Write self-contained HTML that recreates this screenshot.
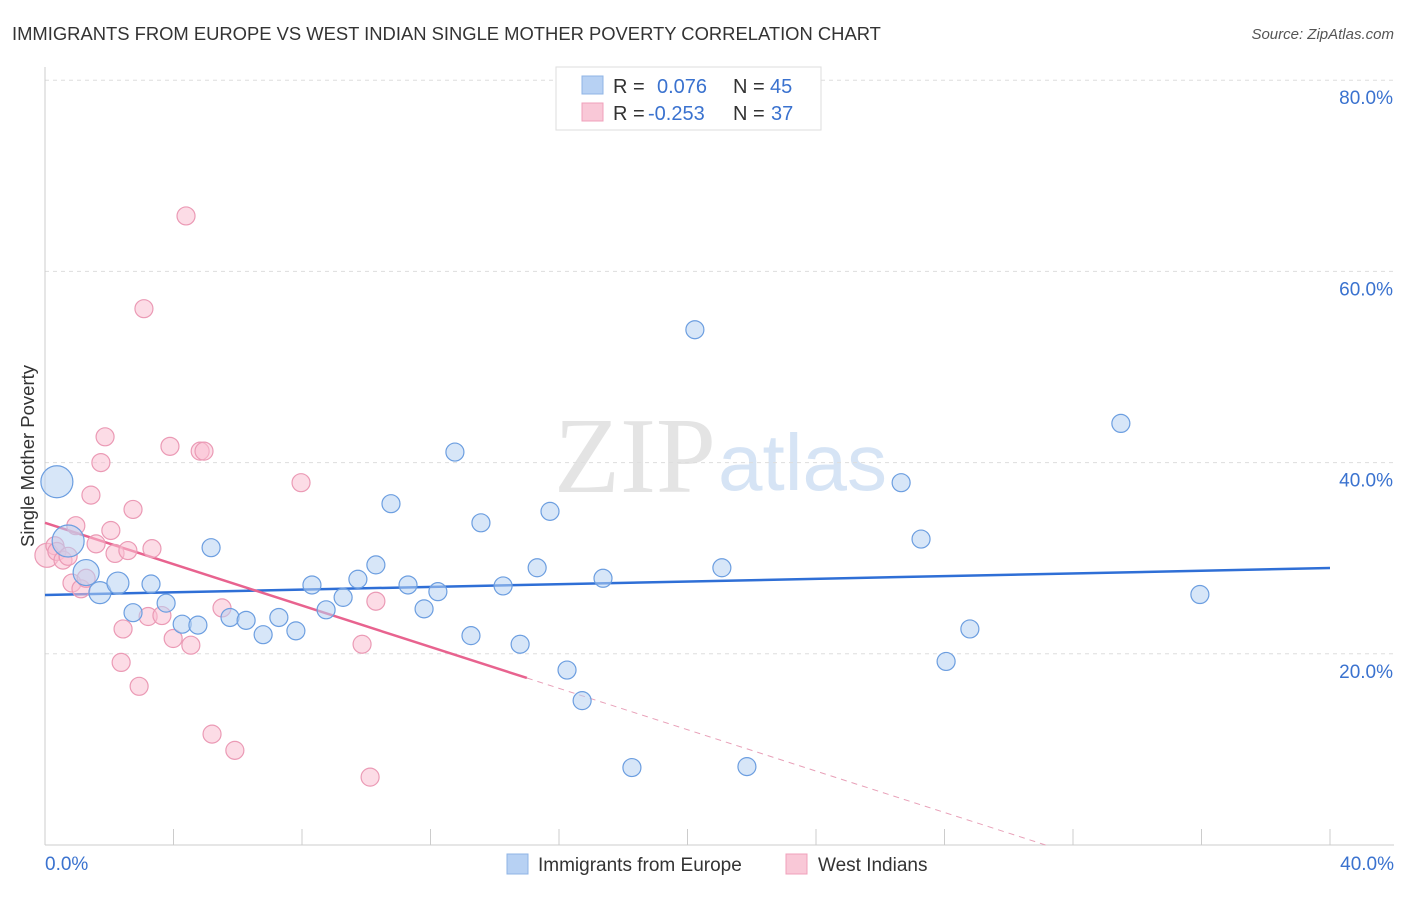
<!DOCTYPE html>
<html><head><meta charset="utf-8"><style>
body{margin:0;background:#fff;font-family:"Liberation Sans",sans-serif;}
</style></head><body>
<svg id="chart" width="1406" height="892" xmlns="http://www.w3.org/2000/svg" font-family="Liberation Sans, sans-serif">
<text x="12" y="40" font-size="18.4" fill="#333">IMMIGRANTS FROM EUROPE VS WEST INDIAN SINGLE MOTHER POVERTY CORRELATION CHART</text>
<text x="1394" y="39" font-size="15" fill="#555" text-anchor="end" font-style="italic">Source: ZipAtlas.com</text>
<text x="716" y="492" font-size="108" fill="#e4e4e4" text-anchor="end" font-family="Liberation Serif, serif">ZIP</text>
<text x="718" y="490" font-size="80" fill="#d6e4f5">atlas</text>
<g id="grid"></g><g id="axes"></g><g id="lines"></g><g id="pts"></g>
<text transform="translate(34,456) rotate(-90)" font-size="18.5" fill="#333" text-anchor="middle">Single Mother Poverty</text>
<g>
<rect x="556" y="67" width="265" height="63" fill="#fff" stroke="#ddd"/>
<rect x="582" y="76" width="21" height="18" fill="#b7d1f3" stroke="#8fb4e6"/>
<rect x="582" y="103" width="21" height="18" fill="#f9c8d7" stroke="#f0a0bb"/>
<text x="613" y="93" font-size="20" fill="#333">R =</text><text x="657" y="93" font-size="20" fill="#3a72cf">0.076</text>
<text x="733" y="93" font-size="20" fill="#333">N =</text><text x="770" y="93" font-size="20" fill="#3a72cf">45</text>
<text x="613" y="120" font-size="20" fill="#333">R =</text><text x="648" y="120" font-size="20" fill="#3a72cf">-0.253</text>
<text x="733" y="120" font-size="20" fill="#333">N =</text><text x="771" y="120" font-size="20" fill="#3a72cf">37</text>
</g>
<g>
<rect x="507" y="854" width="21" height="20" fill="#b7d1f3" stroke="#8fb4e6"/>
<text x="538" y="871" font-size="19" fill="#333">Immigrants from Europe</text>
<rect x="786" y="854" width="21" height="20" fill="#f9c8d7" stroke="#f0a0bb"/>
<text x="818" y="871" font-size="19" fill="#333">West Indians</text>
</g>
</svg>
<script>
const yTicks=[20,40,60,80];
const xTickLabels=["0.0%","40.0%"];
const blueX=[0.37,0.72,1.28,1.71,2.27,2.74,3.3,3.77,4.27,4.76,5.17,5.76,6.26,6.79,7.28,7.81,8.31,8.75,9.28,9.74,10.3,10.77,11.3,11.8,12.23,12.76,13.26,13.57,14.26,14.79,15.32,15.72,16.25,16.72,17.37,18.27,20.23,21.07,21.85,26.65,27.27,28.05,28.79,33.49,35.95];
const blueY=[38.0,31.8,28.5,26.4,27.4,24.3,27.3,25.3,23.1,23.0,31.1,23.8,23.5,22.0,23.8,22.4,27.2,24.6,25.9,27.8,29.3,35.7,27.2,24.7,26.5,41.1,21.9,33.7,27.1,21.0,29.0,34.9,18.3,15.1,27.9,8.1,53.9,29.0,8.2,37.9,32.0,19.2,22.6,44.1,26.2];
const blueR=[16,16,13,11,11,9,9,9,9,9,9,9,9,9,9,9,9,9,9,9,9,9,9,9,9,9,9,9,9,9,9,9,9,9,9,9,9,9,9,9,9,9,9,9,9];
const pinkX=[0.06,0.31,0.37,0.56,0.72,0.84,0.96,1.12,1.28,1.43,1.59,1.74,1.87,2.05,2.18,2.43,2.37,2.58,2.74,2.93,3.08,3.21,3.33,3.64,3.89,3.99,4.39,4.54,4.83,4.95,5.2,5.51,5.91,7.97,9.87,10.12,10.3];
const pinkY=[30.3,31.3,30.7,29.8,30.2,27.4,33.4,26.8,27.9,36.6,31.5,40.0,42.7,32.9,30.5,22.6,19.1,30.8,35.1,16.6,56.1,23.9,31.0,24.0,41.7,21.6,65.8,20.9,41.2,41.2,11.6,24.8,9.9,37.9,21.0,7.1,25.5];
const pinkR=[12,9,9,9,9,9,9,9,9,9,9,9,9,9,9,9,9,9,9,9,9,9,9,9,9,9,9,9,9,9,9,9,9,9,9,9,9];
const blueLine=[26.15,0.0705];
const pinkLine=[33.7,-1.082];
const pinkSolidEnd=15.0;
const NS='http://www.w3.org/2000/svg';
const X=v=>45+v*32.125, Y=v=>845-v*9.56;
function mk(t,a,p){const e=document.createElementNS(NS,t);for(const k in a)e.setAttribute(k,a[k]);document.getElementById(p).appendChild(e);return e;}
yTicks.forEach(t=>{
 const l=mk('line',{x1:45,x2:1394,y1:Y(t),y2:Y(t),stroke:'#ddd','stroke-dasharray':'4,4'},'grid');
 
 
 const tx=mk('text',{x:1393,y:Y(t)+24,'font-size':19,fill:'#3a72cf','text-anchor':'end'},'axes');
 tx.textContent=t.toFixed(1)+'%';
 
 
});
const ax=mk('line',{x1:45,x2:45,y1:67,y2:845,stroke:'#ccc'},'axes');


const xa=mk('line',{x1:45,x2:1394,y1:845,y2:845,stroke:'#ccc'},'axes');


for(let i=0;i<=10;i++){const t=mk('line',{x1:X(i*4),x2:X(i*4),y1:829,y2:845,stroke:'#ccc'},'axes');
 
 }
[[0,'start',45],[40,'end',1394]].forEach((d,i)=>{const t=mk('text',{x:d[2],y:870,'font-size':19,fill:'#3a72cf','text-anchor':d[1]},'axes');t.textContent=xTickLabels[i];
 
 });
function dots(xs,ys,rs,fill,stroke,name){xs.forEach((x,i)=>{const c=mk('circle',{cx:X(x),cy:Y(ys[i]),r:rs[i],fill:fill,'fill-opacity':0.55,stroke:stroke,'stroke-width':1.2},'pts');
 
 });}
dots(pinkX,pinkY,pinkR,'#f9c0d2','#eb9ab5','west-indians-point');
dots(blueX,blueY,blueR,'#b7d1f3','#6c9ee0','europe-point');
const bl=mk('line',{x1:X(0),y1:Y(blueLine[0]),x2:X(40),y2:Y(blueLine[0]+blueLine[1]*40),stroke:'#2f6fd6','stroke-width':2.5},'lines');


const pl=mk('line',{x1:X(0),y1:Y(pinkLine[0]),x2:X(pinkSolidEnd),y2:Y(pinkLine[0]+pinkLine[1]*pinkSolidEnd),stroke:'#e8638f','stroke-width':2.5},'lines');


const zx=-pinkLine[0]/pinkLine[1];
const pd=mk('line',{x1:X(pinkSolidEnd),y1:Y(pinkLine[0]+pinkLine[1]*pinkSolidEnd),x2:X(zx),y2:Y(0),stroke:'#e8a0b8','stroke-width':1,'stroke-dasharray':'6,5'},'lines');


</script>
</body></html>
